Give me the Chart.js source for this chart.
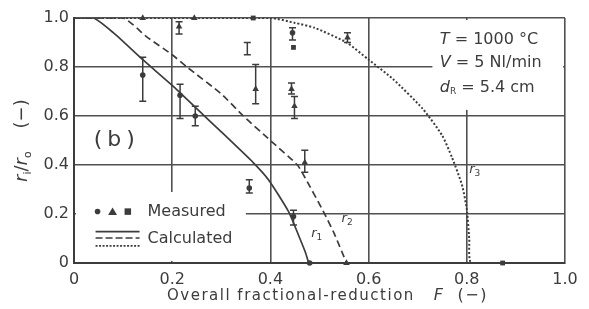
<!DOCTYPE html>
<html>
<head>
<meta charset="utf-8">
<script src="https://cdn.jsdelivr.net/npm/chart.js@4.4.0/dist/chart.umd.min.js"></script>
<style>
  html, body { margin: 0; padding: 0; background: #fff; }
  #wrap { width: 589px; height: 309px; }
</style>
</head>
<body>
<div id="wrap"><canvas id="chart"></canvas></div>
<script>
// Calculated interface positions r_i/r_0 versus fractional reduction F
const solidF = [0, 0.04, 0.08, 0.14, 0.2, 0.25, 0.3, 0.365, 0.396, 0.437, 0.46, 0.471, 0.478];
const solidR = [1, 1, 0.94, 0.83, 0.725, 0.63, 0.535, 0.41, 0.34, 0.21, 0.1, 0.045, 0];
const dashF = [0, 0.1, 0.15, 0.2, 0.23, 0.3, 0.345, 0.4, 0.455, 0.47, 0.508, 0.53, 0.555];
const dashR = [1, 1, 0.92, 0.85, 0.8, 0.69, 0.6, 0.5, 0.4, 0.35, 0.21, 0.12, 0];
const dotF = [0, 0.4, 0.45, 0.49, 0.555, 0.6, 0.65, 0.71, 0.75, 0.77, 0.79, 0.8, 0.805, 0.81, 1.0];
const dotR = [1, 1, 0.98, 0.96, 0.9, 0.83, 0.75, 0.63, 0.52, 0.43, 0.32, 0.22, 0.1, 0, 0];

// Measured points (circle / triangle / square) with error-bar limits
const circF = [0.14, 0.216, 0.247, 0.357, 0.447, 0.48, 0.445];
const circR = [0.767, 0.685, 0.6, 0.306, 0.19, 0, 0.94];
const circLo = [0.66, 0.59, 0.56, 0.286, 0.155, null, 0.91];
const circHi = [0.84, 0.73, 0.64, 0.34, 0.215, null, 0.96];

const triF = [0.14, 0.214, 0.245, 0.353, 0.37, 0.443, 0.449, 0.47, 0.555, 0.557];
const triR = [1.0, 0.965, 1.0, 0.875, 0.71, 0.71, 0.64, 0.41, 0, 0.92];
const triLo = [null, 0.935, null, 0.85, 0.65, 0.69, 0.59, 0.37, null, 0.9];
const triHi = [null, 0.985, null, 0.9, 0.81, 0.735, 0.68, 0.46, null, 0.94];

const sqF = [0.365, 0.447, 0.873];
const sqR = [1.0, 0.88, 0];

const xTickLabels = ['0', '0.2', '0.4', '0.6', '0.8', '1.0'];
const yTickLabels = ['0', '0.2', '0.4', '0.6', '0.8', '1.0'];

const ink = '#3c3c3c';
const font = 'DejaVu Sans';

const zip = (xs, ys) => xs.map((v, i) => ({ x: v, y: ys[i] }));

// draw a run of text pieces with their own fonts / baseline offsets
function drawRuns(ctx, x, y, parts) {
    let cx = x;
    parts.forEach(([txt, f, dy]) => {
        ctx.font = f;
        ctx.fillText(txt, cx, y + (dy || 0));
        cx += ctx.measureText(txt).width;
    });
}

const paperPlugin = {
    id: 'paper',
    beforeDatasetsDraw(chart) {
        const { ctx, chartArea: a, scales: { x, y } } = chart;
        ctx.save();
        ctx.fillStyle = '#fff';
        // clear grid under the legend
        const ly = y.getPixelForValue(0.29);
        ctx.fillRect(a.left + 2, ly, x.getPixelForValue(0.35) - a.left - 2, a.bottom - 2 - ly);
        // clear grid under the conditions box
        const bx = x.getPixelForValue(0.73);
        ctx.fillRect(bx, a.top + 2, a.right - 2 - bx, y.getPixelForValue(0.625) - a.top - 2);
        ctx.restore();
    },
    afterDatasetsDraw(chart) {
        const { ctx, chartArea: a, scales: { x, y } } = chart;
        ctx.save();
        ctx.strokeStyle = ink;
        ctx.fillStyle = ink;

        // error bars
        ctx.lineWidth = 1.5;
        const bars = (fs, lo, hi) => fs.forEach((f, i) => {
            if (lo[i] == null) return;
            const px = x.getPixelForValue(f);
            const y1 = y.getPixelForValue(lo[i]);
            const y2 = y.getPixelForValue(hi[i]);
            ctx.beginPath();
            ctx.moveTo(px, y1); ctx.lineTo(px, y2);
            ctx.moveTo(px - 3.5, y1); ctx.lineTo(px + 3.5, y1);
            ctx.moveTo(px - 3.5, y2); ctx.lineTo(px + 3.5, y2);
            ctx.stroke();
        });
        bars(circF, circLo, circHi);
        bars(triF, triLo, triHi);

        // conditions box
        ctx.textBaseline = 'middle';
        const tx = x.getPixelForValue(0.745);
        drawRuns(ctx, tx, y.getPixelForValue(0.91), [['T', `italic 16px ${font}`], [' = 1000 °C', `16px ${font}`]]);
        drawRuns(ctx, tx, y.getPixelForValue(0.815), [['V', `italic 16px ${font}`], [' = 5 Nl/min', `16px ${font}`]]);
        drawRuns(ctx, tx, y.getPixelForValue(0.715), [['d', `italic 16px ${font}`], ['R', `9px ${font}`, 4], [' = 5.4 cm', `16px ${font}`]]);

        // panel tag
        ctx.font = `22px ${font}`;
        ctx.letterSpacing = '5px';
        ctx.fillText('(b)', x.getPixelForValue(0.04), y.getPixelForValue(0.5));
        ctx.letterSpacing = '0px';

        // curve labels
        const curveLabel = (f, r, sub) => drawRuns(ctx, x.getPixelForValue(f), y.getPixelForValue(r),
            [['r', `italic 13px ${font}`], [sub, `9px ${font}`, 4]]);
        curveLabel(0.483, 0.12, '1');
        curveLabel(0.545, 0.18, '2');
        curveLabel(0.805, 0.38, '3');

        // legend
        const lx = x.getPixelForValue(0.048);
        const my = y.getPixelForValue(0.21);
        ctx.beginPath(); ctx.arc(lx, my, 2.8, 0, Math.PI * 2); ctx.fill();
        ctx.beginPath();
        ctx.moveTo(lx + 15, my - 4); ctx.lineTo(lx + 19.5, my + 3.5); ctx.lineTo(lx + 10.5, my + 3.5);
        ctx.closePath(); ctx.fill();
        ctx.fillRect(lx + 27, my - 3.2, 6.5, 6.5);
        ctx.font = `16px ${font}`;
        ctx.fillText('Measured', lx + 50, my);

        const sx1 = lx - 2, sx2 = lx + 42;
        const sample = (yy, dash) => {
            ctx.setLineDash(dash);
            ctx.beginPath(); ctx.moveTo(sx1, yy); ctx.lineTo(sx2, yy); ctx.stroke();
        };
        ctx.lineWidth = 1.6;
        sample(y.getPixelForValue(0.128), []);
        sample(y.getPixelForValue(0.102), [7, 3]);
        sample(y.getPixelForValue(0.07), [2, 1.5]);
        ctx.setLineDash([]);
        ctx.fillText('Calculated', lx + 50, y.getPixelForValue(0.1));
        ctx.restore();
    },
    afterDraw(chart) {
        const { ctx, chartArea: a } = chart;
        ctx.save();
        ctx.fillStyle = ink;
        ctx.textBaseline = 'alphabetic';
        // x title
        ctx.letterSpacing = '1.5px';
        drawRuns(ctx, 167, 300, [['Overall fractional-reduction', `15px ${font}`],
            ['   ', `15px ${font}`], ['F', `italic 16px ${font}`], ['  (−)', `16px ${font}`]]);
        ctx.letterSpacing = '0px';
        // y title
        ctx.translate(27, 182);
        ctx.rotate(-Math.PI / 2);
        drawRuns(ctx, 0, 0, [['r', `italic 18px ${font}`], ['i', `11px ${font}`, 4], ['/', `18px ${font}`],
            ['r', `italic 18px ${font}`], ['o', `11px ${font}`, 4], ['    (−)', `18px ${font}`]]);
        ctx.restore();
    }
};

const gridOpts = { color: '#505050', lineWidth: 1.6, drawTicks: false };

new Chart(document.getElementById('chart'), {
    type: 'scatter',
    data: {
        datasets: [
            { data: zip(solidF, solidR), showLine: true, borderColor: ink, borderWidth: 1.7, pointRadius: 0, tension: 0.2 },
            { data: zip(dashF, dashR), showLine: true, borderColor: ink, borderWidth: 1.7, borderDash: [7, 4], pointRadius: 0, tension: 0.2 },
            { data: zip(dotF, dotR), showLine: true, borderColor: ink, borderWidth: 2, borderDash: [2, 2], pointRadius: 0, tension: 0.2 },
            { data: zip(circF, circR), clip: false, pointStyle: 'circle', pointRadius: 2.8, backgroundColor: ink, borderColor: ink, borderWidth: 0 },
            { data: zip(triF, triR), clip: false, pointStyle: 'triangle', pointRadius: triF.map((f, i) => i === 3 ? 0 : 3.8), backgroundColor: ink, borderColor: ink, borderWidth: 0 },
            { data: zip(sqF, sqR), clip: false, pointStyle: 'rect', pointRadius: 3.4, backgroundColor: ink, borderColor: ink, borderWidth: 0 }
        ]
    },
    options: {
        responsive: true,
        maintainAspectRatio: false,
        animation: false,
        layout: { padding: { left: 0, right: 24, top: 18, bottom: 0 } },
        plugins: { legend: { display: false }, tooltip: { enabled: false } },
        scales: {
            x: {
                type: 'linear', min: 0, max: 1,
                grid: gridOpts,
                border: { display: true, color: ink, width: 2 },
                ticks: { stepSize: 0.2, padding: 7, color: ink, font: { family: font, size: 16 },
                    callback: (v, i) => xTickLabels[i] },
                afterFit: s => { s.height = 46; }
            },
            y: {
                type: 'linear', min: 0, max: 1,
                grid: gridOpts,
                border: { display: true, color: ink, width: 2 },
                ticks: { stepSize: 0.2, padding: 5, color: ink, font: { family: font, size: 16 },
                    callback: (v, i) => yTickLabels[i] },
                afterFit: s => { s.width = 74; }
            }
        }
    },
    plugins: [paperPlugin]
});
</script>
</body>
</html>
